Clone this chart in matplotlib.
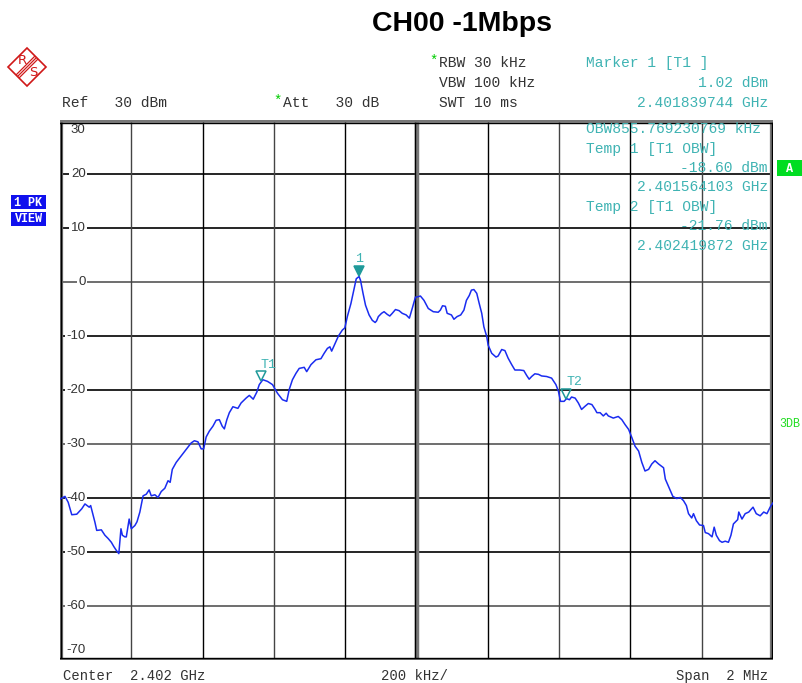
import matplotlib
matplotlib.use("Agg")
import matplotlib.pyplot as plt
from matplotlib.patches import Polygon, Rectangle

# trace: frequency offset from centre (kHz) and level (dBm)
freq_khz = [-1000, -986, -977, -967, -953, -939, -930, -918, -914, -902, -897, -884, -874, -865,
            -856, -849, -842, -835, -829, -825, -818, -814, -806, -800, -790, -784, -776, -767,
            -758, -750, -744, -734, -725, -716, -706, -697, -691, -685, -674, -660, -646, -632,
            -623, -613, -604, -597, -590, -581, -571, -562, -553, -545, -539, -532, -525, -515,
            -501, -492, -478, -469, -458, -448, -441, -431, -418, -404, -390, -376, -364, -357,
            -348, -338, -329, -315, -308, -296, -282, -268, -259, -250, -243, -238, -228, -219,
            -208, -201, -194, -184, -175, -169, -161, -157, -150, -143, -133, -124, -116, -112,
            -107, -98, -91, -82, -75, -68, -59, -49, -40, -29, -20, -12, -3,
            0, 11, 21, 33, 47, 61, 67, 73, 81, 86, 98, 105, 114, 124, 133, 140, 148, 154, 161,
            169, 176, 183, 189, 197, 201, 211, 223, 229, 239, 248, 257, 267, 276, 290, 301, 309,
            316, 323, 332, 342, 351, 365, 379, 391, 398, 404, 414, 421, 429, 435, 445, 454, 463,
            473, 482, 492, 501, 506, 515, 524, 532, 538, 552, 566, 576, 585, 595, 604, 613, 623,
            632, 641, 651, 660, 669, 679, 693, 698, 702, 710, 719, 730, 740, 749, 757, 763, 772,
            777, 785, 794, 805, 810, 819, 829, 835, 841, 850, 857, 866, 875, 882, 889, 901, 904,
            913, 922, 932, 944, 953, 964, 974, 983, 992, 1000]
level_dbm = [-40.2, -39.7, -40.8, -43.1, -43.0, -42.0, -41.1, -41.7, -41.4, -44.5, -46.0, -45.9,
             -46.9, -47.5, -48.2, -49.0, -49.7, -50.3, -45.7, -46.9, -47.2, -47.2, -43.9, -45.7,
             -45.1, -44.4, -42.6, -39.6, -39.3, -38.5, -39.6, -39.4, -39.9, -38.8, -38.2, -36.8,
             -37.1, -34.7, -33.4, -32.2, -31.0, -29.8, -29.4, -29.6, -30.9, -30.9, -28.7, -27.6,
             -26.7, -25.6, -25.5, -26.7, -27.2, -25.5, -24.2, -23.1, -23.4, -22.4, -21.5, -21.0,
             -21.7, -20.4, -19.0, -18.1, -18.4, -19.0, -20.6, -21.8, -22.1, -19.9, -18.1, -16.9,
             -16.0, -15.8, -16.6, -15.3, -14.4, -14.2, -13.2, -12.3, -12.0, -12.8, -11.3, -10.0,
             -8.9, -8.5, -6.4, -4.0, -1.2, 0.6, 1.02, 0.3, -2.1, -4.3, -6.1, -7.1, -7.5, -7.2,
             -6.4, -5.8, -5.5, -6.0, -6.3, -5.8, -5.1, -5.3, -5.8, -6.1, -6.7, -4.9, -2.8,
             -2.8, -2.6, -3.4, -4.9, -5.5, -5.6, -5.2, -4.4, -4.5, -5.8, -6.1, -6.9, -6.4, -6.1,
             -5.2, -3.4, -2.5, -1.5, -1.4, -2.1, -4.0, -5.8, -8.3, -10.1, -11.7, -13.2, -13.9,
             -13.7, -12.5, -12.7, -14.1, -15.3, -16.3, -16.3, -16.4, -17.3, -18.0, -17.5, -17.0,
             -17.1, -17.4, -17.5, -17.8, -19.0, -20.2, -22.1, -22.1, -21.6, -21.8, -21.3, -21.5,
             -22.4, -23.6, -23.0, -22.5, -22.7, -23.6, -24.2, -24.2, -24.8, -24.3, -24.8, -25.2,
             -24.9, -25.5, -26.4, -27.3, -28.8, -30.4, -31.3, -33.4, -35.0, -34.7, -33.7, -33.1,
             -33.7, -34.4, -36.5, -37.1, -38.3, -39.7, -40.1, -39.9, -40.5, -41.4, -42.9, -43.7,
             -42.9, -44.2, -45.0, -45.1, -46.4, -46.6, -47.2, -45.4, -46.9, -47.9, -48.2, -48.0,
             -48.2, -46.9, -44.8, -44.0, -42.6, -43.9, -42.9, -42.6, -41.7, -42.9, -43.3, -42.6,
             -42.9, -41.7, -40.9]

# markers: name, offset kHz, level dBm, filled
markers = [("1", -160.3, 1.02, True), ("T1", -435.9, -18.60, False), ("T2", 419.9, -21.76, False)]
y_ticks = [30, 20, 10, 0, -10, -20, -30, -40, -50, -60, -70]

header_left = "Ref   30 dBm"
settings = ["RBW 30 kHz", "VBW 100 kHz", "SWT 10 ms"]
marker_info = ["Marker 1 [T1 ]", "1.02 dBm", "2.401839744 GHz"]
obw_info = ["OBW855.769230769 kHz", "Temp 1 [T1 OBW]", "-18.60 dBm", "2.401564103 GHz",
            "Temp 2 [T1 OBW]", "-21.76 dBm", "2.402419872 GHz"]

W, H = 802, 683
CYAN = "#3fb3b3"
TEAL = "#1f9a9a"
GREY = "#333333"
MONO = "Liberation Mono"

fig = plt.figure(figsize=(W / 100, H / 100), dpi=100)
x0, x1, y0, y1 = 60, 773, 120, 660
ax = fig.add_axes([x0 / W, 1 - y1 / H, (x1 - x0) / W, (y1 - y0) / H])
ax.set_xlim(-1000, 1000)
ax.set_ylim(-70, 30)
ax.set_xticks([]); ax.set_yticks([])
for s in ax.spines.values():
    s.set_visible(False)

# grid
for i, yv in enumerate(range(20, -70, -10)):
    ax.axhline(yv, color="black" if i % 3 != 2 else "#555555", lw=1.2, zorder=1)
for i, xv in enumerate(range(-800, 1000, 200)):
    if xv == 0:
        ax.axvline(0, color="#777777", lw=3.2, zorder=1)
        ax.axvline(-3, color="black", lw=1.0, zorder=1)
    else:
        ax.axvline(xv, color="black" if i % 2 else "#444444", lw=1.0, zorder=1)
# frame
ax.axvline(-1000, color="#777777", lw=4.5, zorder=3)
ax.axvline(-997, color="black", lw=1.0, zorder=3)
ax.axvline(1000, color="#777777", lw=4.5, zorder=3)
ax.axvline(997, color="black", lw=1.0, zorder=3)
ax.axhline(30, color="#777777", lw=4.0, zorder=3)
ax.axhline(29.5, color="black", lw=1.0, zorder=3)
ax.axhline(-70, color="#777777", lw=3.5, zorder=3)
ax.axhline(-69.6, color="black", lw=1.0, zorder=3)

# y labels inside the plot
for yv in y_ticks:
    edge = yv in (30, -70)
    yy = yv - 1.8 if yv == 30 else (yv + 1.8 if yv == -70 else yv)
    ax.text(-928, yy, str(yv), fontsize=9.5, family="Liberation Sans", color=GREY,
            ha="right", va="center", zorder=4,
            bbox=None if edge else dict(facecolor="white", edgecolor="none", pad=1.2))

# trace
ax.plot(freq_khz, level_dbm, color="#1a2cf0", lw=1.1, zorder=5)

# markers
for name, f, lv, filled in markers:
    ax.plot(f, lv + 1.1, marker="v", ms=7, color=TEAL,
            mfc=TEAL if filled else "none", mew=1.1, zorder=6)
    ax.text(f + (0 if filled else 22), lv + 3.3, name, fontsize=9.5, family=MONO, color=CYAN,
            ha="center", va="center", zorder=6)

# plot-area text (OBW block)
obw_y = [129, 149, 168, 187, 207, 226, 246]
for t, yy in zip(obw_info, obw_y):
    right = not (t.startswith("Temp") or t.startswith("OBW"))
    fig.text((768 if right else 586) / W, 1 - yy / H, t, fontsize=10.5, family=MONO, color=CYAN,
             ha="right" if right else "left", va="center", zorder=7)

# header
fig.text(462 / W, 1 - 24 / H, "CH00 -1Mbps", fontsize=20.5, family="Liberation Sans",
         weight="bold", ha="center", va="center")
fig.text(62 / W, 1 - 103 / H, header_left, fontsize=10.5, family=MONO, color=GREY, va="center")
fig.text(273 / W, 1 - 101 / H, "*", fontsize=10, family=MONO, color="#00cc00", va="center")
fig.text(283 / W, 1 - 103 / H, "Att   30 dB", fontsize=10.5, family=MONO, color=GREY, va="center")
fig.text(429 / W, 1 - 61 / H, "*", fontsize=10, family=MONO, color="#00cc00", va="center")
for t, yy in zip(settings, [63, 83, 103]):
    fig.text(439 / W, 1 - yy / H, t, fontsize=10.5, family=MONO, color=GREY, va="center")
fig.text(586 / W, 1 - 63 / H, marker_info[0], fontsize=10.5, family=MONO, color=CYAN, va="center")
fig.text(768 / W, 1 - 83 / H, marker_info[1], fontsize=10.5, family=MONO, color=CYAN,
         ha="right", va="center")
fig.text(768 / W, 1 - 103 / H, marker_info[2], fontsize=10.5, family=MONO, color=CYAN,
         ha="right", va="center")

# footer
fig.text(63 / W, 1 - 676 / H, "Center  2.402 GHz", fontsize=10, family=MONO, color=GREY, va="center")
fig.text(414 / W, 1 - 676 / H, "200 kHz/", fontsize=10, family=MONO, color=GREY,
         ha="center", va="center")
fig.text(768 / W, 1 - 676 / H, "Span  2 MHz", fontsize=10, family=MONO, color=GREY,
         ha="right", va="center")

# side badges (overlay axes in pixel units)
ov = fig.add_axes([0, 0, 1, 1], facecolor="none", zorder=10)
ov.set_xlim(0, W); ov.set_ylim(H, 0); ov.axis("off")
for lbl, yy in (("1 PK", 195), ("VIEW", 212)):
    ov.add_patch(Rectangle((11, yy), 35, 14, color="#1010ee", lw=0))
    ov.text(28.5, yy + 7.5, lbl, fontsize=8.5, family=MONO, weight="bold", color="white",
            ha="center", va="center")
ov.add_patch(Rectangle((777, 160), 25, 16, color="#00dd22", lw=0))
ov.text(789.5, 168.5, "A", fontsize=8.5, family=MONO, weight="bold", color="white",
        ha="center", va="center")
ov.text(779, 424, "3DB", fontsize=8.5, family=MONO, color="#22dd22", ha="left", va="center")

# R&S logo
red = "#d01818"
cx, cy, r = 27, 67, 19
ov.add_patch(Polygon([(cx, cy - r), (cx + r, cy), (cx, cy + r), (cx - r, cy)], closed=True,
                     fill=False, edgecolor=red, lw=1.2))
for d in (-1.5, 0, 1.5):
    ov.plot([cx - 9 + d, cx + 9 + d], [cy + 9 + d, cy - 9 + d], color=red, lw=0.9)
ov.text(cx - 5, cy - 6, "R", fontsize=9.5, color=red, ha="center", va="center")
ov.text(cx + 6, cy + 6, "S", fontsize=9.5, color=red, ha="center", va="center")

fig.savefig("out.png", dpi=100, facecolor="white")
